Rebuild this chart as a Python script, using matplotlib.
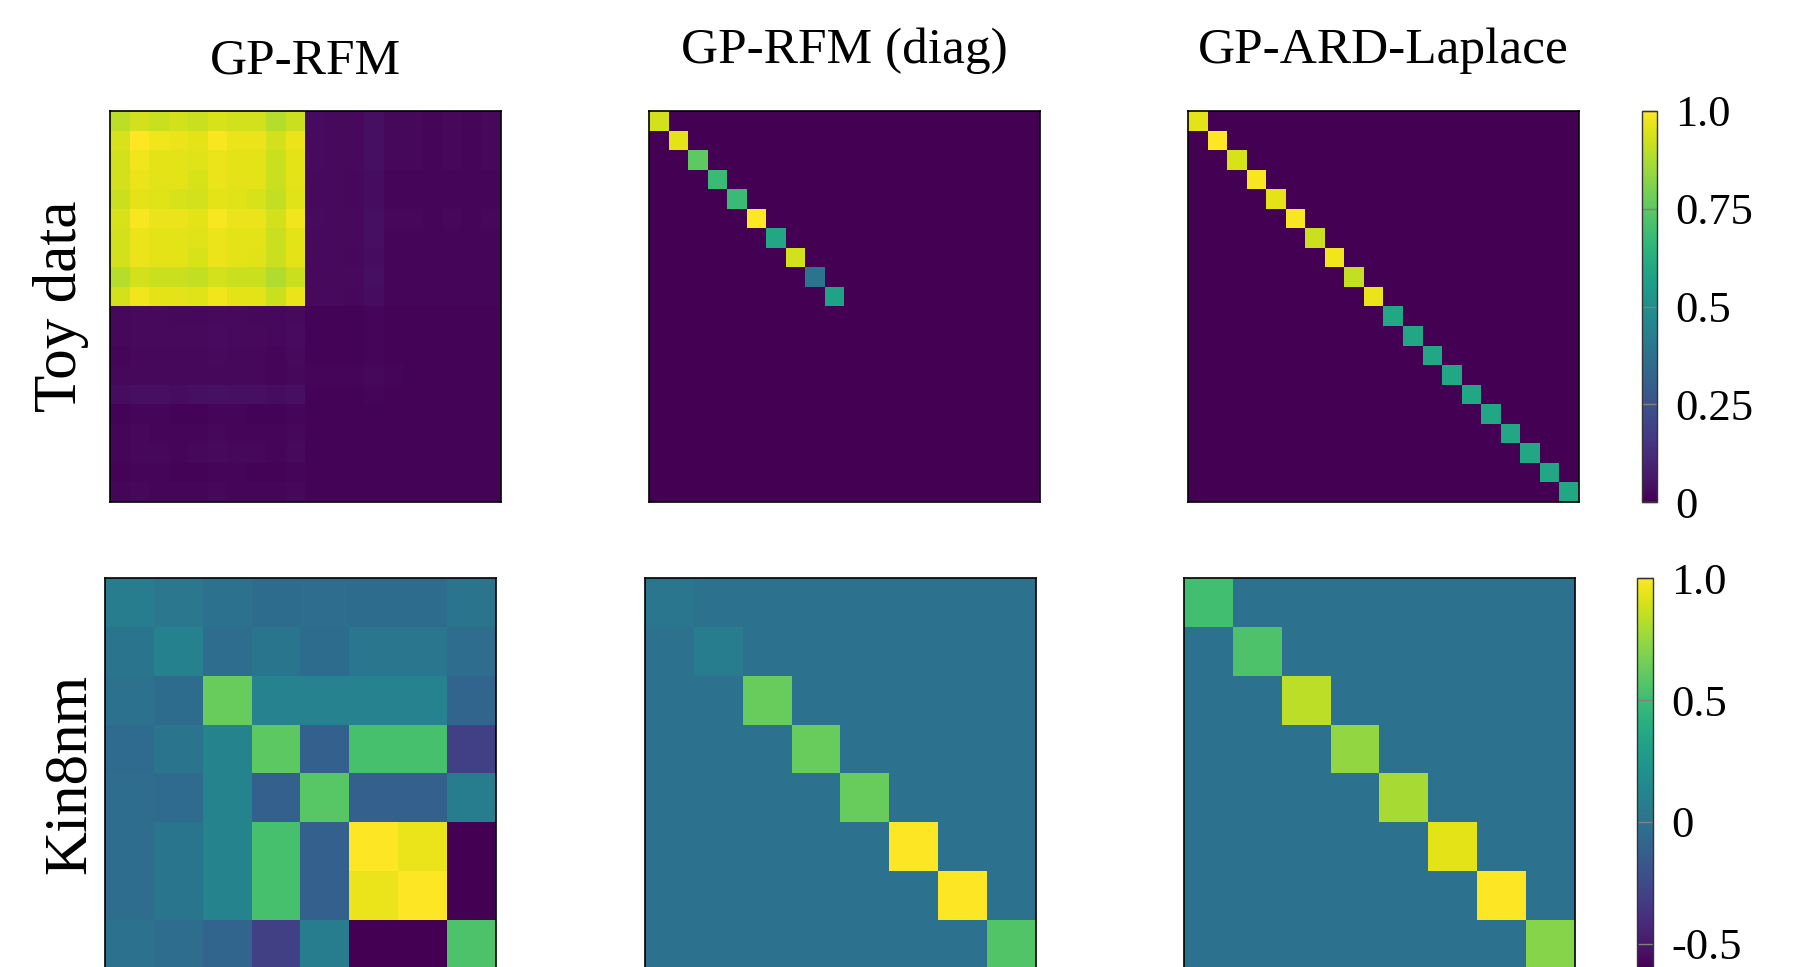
import numpy as np
import matplotlib
matplotlib.use('Agg')
import matplotlib.pyplot as plt

plt.rcParams['font.family'] = ['Liberation Serif', 'DejaVu Serif']

methods = ['GP-RFM', 'GP-RFM (diag)', 'GP-ARD-Laplace']
datasets = ['Toy data', 'Kin8nm']

# toy data, GP-RFM: 20x20 built from four 10x10 blocks
toy_rfm_tl = [
    [0.90, 0.93, 0.92, 0.93, 0.92, 0.94, 0.93, 0.93, 0.89, 0.92],
    [0.94, 1.00, 0.98, 0.97, 0.96, 0.99, 0.97, 0.97, 0.93, 0.97],
    [0.93, 0.98, 0.96, 0.96, 0.95, 0.97, 0.96, 0.96, 0.92, 0.96],
    [0.93, 0.97, 0.96, 0.96, 0.94, 0.97, 0.96, 0.96, 0.92, 0.96],
    [0.92, 0.96, 0.95, 0.94, 0.93, 0.96, 0.95, 0.94, 0.91, 0.95],
    [0.94, 0.99, 0.97, 0.97, 0.96, 0.99, 0.97, 0.97, 0.93, 0.98],
    [0.93, 0.97, 0.96, 0.96, 0.95, 0.97, 0.96, 0.96, 0.92, 0.96],
    [0.93, 0.97, 0.96, 0.96, 0.94, 0.97, 0.96, 0.95, 0.92, 0.96],
    [0.89, 0.93, 0.92, 0.92, 0.91, 0.93, 0.92, 0.92, 0.88, 0.92],
    [0.93, 0.98, 0.96, 0.96, 0.95, 0.98, 0.96, 0.96, 0.92, 0.97],
]
toy_rfm_tr = [
    [0.030, 0.025, 0.025, 0.040, 0.020, 0.020, 0.015, 0.020, 0.015, 0.020],
    [0.030, 0.025, 0.025, 0.040, 0.020, 0.020, 0.015, 0.020, 0.015, 0.020],
    [0.030, 0.025, 0.025, 0.040, 0.020, 0.020, 0.015, 0.020, 0.015, 0.020],
    [0.025, 0.025, 0.020, 0.035, 0.015, 0.015, 0.015, 0.015, 0.015, 0.015],
    [0.025, 0.025, 0.020, 0.035, 0.015, 0.015, 0.015, 0.015, 0.015, 0.015],
    [0.030, 0.025, 0.025, 0.040, 0.020, 0.020, 0.015, 0.020, 0.015, 0.020],
    [0.025, 0.025, 0.025, 0.040, 0.015, 0.015, 0.015, 0.015, 0.015, 0.015],
    [0.025, 0.025, 0.020, 0.035, 0.015, 0.015, 0.015, 0.015, 0.015, 0.015],
    [0.025, 0.025, 0.025, 0.040, 0.015, 0.015, 0.015, 0.015, 0.015, 0.015],
    [0.025, 0.025, 0.020, 0.035, 0.015, 0.015, 0.015, 0.015, 0.015, 0.015],
]
toy_rfm_bl = [
    [0.020, 0.025, 0.025, 0.020, 0.020, 0.025, 0.025, 0.020, 0.020, 0.025],
    [0.020, 0.025, 0.025, 0.025, 0.025, 0.030, 0.025, 0.025, 0.020, 0.030],
    [0.015, 0.020, 0.020, 0.020, 0.020, 0.025, 0.020, 0.020, 0.015, 0.025],
    [0.020, 0.020, 0.020, 0.020, 0.020, 0.020, 0.020, 0.020, 0.015, 0.020],
    [0.035, 0.040, 0.040, 0.035, 0.040, 0.045, 0.040, 0.040, 0.035, 0.040],
    [0.010, 0.015, 0.015, 0.010, 0.010, 0.015, 0.015, 0.010, 0.010, 0.015],
    [0.015, 0.020, 0.015, 0.015, 0.015, 0.020, 0.015, 0.015, 0.015, 0.020],
    [0.015, 0.020, 0.020, 0.015, 0.020, 0.025, 0.020, 0.020, 0.015, 0.025],
    [0.010, 0.015, 0.015, 0.010, 0.010, 0.015, 0.015, 0.010, 0.010, 0.015],
    [0.015, 0.020, 0.015, 0.015, 0.015, 0.020, 0.015, 0.015, 0.015, 0.020],
]
toy_rfm_br = [
    [0.010, 0.010, 0.010, 0.015, 0.010, 0.010, 0.010, 0.010, 0.010, 0.010],
    [0.010, 0.010, 0.010, 0.015, 0.010, 0.010, 0.010, 0.010, 0.010, 0.010],
    [0.010, 0.010, 0.010, 0.015, 0.010, 0.010, 0.010, 0.010, 0.010, 0.010],
    [0.015, 0.015, 0.015, 0.020, 0.015, 0.010, 0.010, 0.010, 0.010, 0.010],
    [0.010, 0.010, 0.010, 0.015, 0.010, 0.010, 0.010, 0.010, 0.010, 0.010],
    [0.010, 0.010, 0.010, 0.010, 0.010, 0.010, 0.010, 0.010, 0.010, 0.010],
    [0.010, 0.010, 0.010, 0.010, 0.010, 0.010, 0.010, 0.010, 0.010, 0.010],
    [0.010, 0.010, 0.010, 0.010, 0.010, 0.010, 0.010, 0.010, 0.010, 0.010],
    [0.010, 0.010, 0.010, 0.010, 0.010, 0.010, 0.010, 0.010, 0.010, 0.010],
    [0.010, 0.010, 0.010, 0.010, 0.010, 0.010, 0.010, 0.010, 0.010, 0.010],
]

# toy data, diagonal models (20 inputs)
toy_diag = [0.93, 0.96, 0.75, 0.68, 0.68, 1.00, 0.60, 0.93, 0.38, 0.58,
            0, 0, 0, 0, 0, 0, 0, 0, 0, 0]
toy_ard = [0.96, 1.00, 0.94, 0.99, 0.96, 0.99, 0.92, 0.98, 0.91, 0.97,
           0.60, 0.60, 0.60, 0.60, 0.60, 0.60, 0.60, 0.60, 0.60, 0.60]

# kin8nm, GP-RFM full 8x8
kin_rfm = [
    [0.066, 0.034, 0.002, -0.038, -0.030, -0.038, -0.038, 0.010],
    [0.010, 0.098, -0.030, 0.018, -0.038, 0.026, 0.026, -0.030],
    [-0.006, -0.038, 0.630, 0.106, 0.106, 0.106, 0.106, -0.079],
    [-0.047, 0.010, 0.115, 0.598, -0.111, 0.533, 0.533, -0.304],
    [-0.030, -0.047, 0.115, -0.111, 0.581, -0.111, -0.111, 0.066],
    [-0.030, 0.018, 0.115, 0.533, -0.111, 1.000, 0.952, -0.605],
    [-0.030, 0.018, 0.115, 0.533, -0.111, 0.952, 1.000, -0.605],
    [0.002, -0.030, -0.079, -0.304, 0.066, -0.605, -0.605, 0.549],
]
kin_diag = [0.026, 0.074, 0.630, 0.630, 0.630, 1.000, 1.000, 0.565]
kin_ard = [0.517, 0.549, 0.839, 0.742, 0.790, 0.936, 1.000, 0.710]

toy_ticks = [0, 0.25, 0.5, 0.75, 1.0]
toy_ticklabels = ['0', '0.25', '0.5', '0.75', '1.0']
kin_ticks = [-0.5, 0, 0.5, 1.0]
kin_ticklabels = ['-0.5', '0', '0.5', '1.0']

toy = [np.block([[np.array(toy_rfm_tl), np.array(toy_rfm_tr)],
                 [np.array(toy_rfm_bl), np.array(toy_rfm_br)]]),
       np.diag(toy_diag), np.diag(toy_ard)]
kin = [np.array(kin_rfm), np.diag(kin_diag), np.diag(kin_ard)]

fig = plt.figure(figsize=(17.93, 9.67), dpi=100)
W, H = 1793.0, 967.0

def px_axes(x0, y0, w, h):
    return fig.add_axes([x0 / W, 1 - (y0 + h) / H, w / W, h / H])

rows = [
    dict(mats=toy, xs=[109.5, 648.5, 1188.0], y=111.0, cbx=1641.7,
         vmin=0.0, ticks=toy_ticks, labels=toy_ticklabels),
    dict(mats=kin, xs=[105.0, 644.7, 1184.0], y=578.3, cbx=1637.3,
         vmin=min(np.min(m) for m in kin), ticks=kin_ticks, labels=kin_ticklabels),
]
size = 391.0

for r, row in enumerate(rows):
    for c, mat in enumerate(row['mats']):
        ax = px_axes(row['xs'][c], row['y'], size, size)
        im = ax.imshow(mat, cmap='viridis', vmin=row['vmin'], vmax=1.0,
                       interpolation='nearest', aspect='auto')
        ax.set_xticks([])
        ax.set_yticks([])
        for s in ax.spines.values():
            s.set_linewidth(1.2)
            s.set_color('black')
    cax = px_axes(row['cbx'], row['y'], 15.6, size)
    cb = fig.colorbar(im, cax=cax)
    cb.set_ticks(row['ticks'])
    cb.set_ticklabels(row['labels'])
    cb.outline.set_linewidth(1.0)
    cb.outline.set_edgecolor('#333333')
    cax.tick_params(direction='in', length=11, width=1.0, color='gray',
                    labelsize=32, pad=13)

# column titles
title_base = [73, 63, 63]
for c, name in enumerate(methods):
    xc = (rows[0]['xs'][c] + size / 2) / W
    fig.text(xc, 1 - title_base[c] / H, name, ha='center', va='baseline',
             fontsize=37)

# row labels
fig.text(61 / W, 1 - 306 / H, datasets[0], rotation=90, ha='center',
         va='center', fontsize=44)
fig.text(70 / W, 1 - 774 / H, datasets[1], rotation=90, ha='center',
         va='center', fontsize=44)

fig.savefig('out.png', dpi=100)
